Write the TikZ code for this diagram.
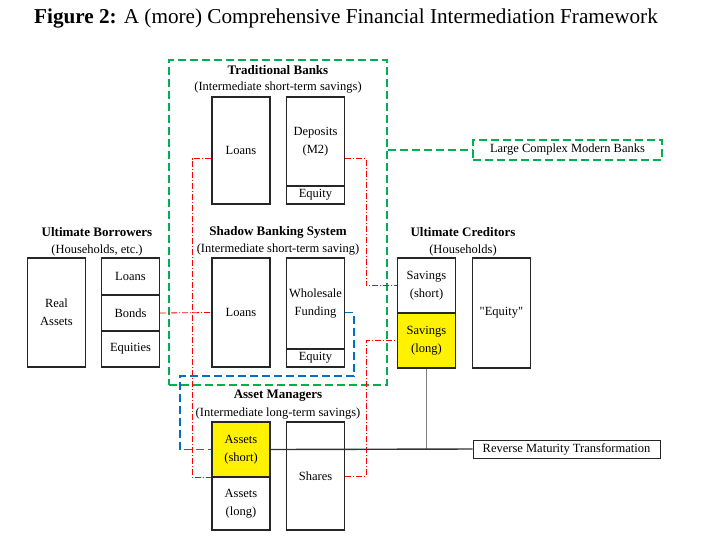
\documentclass[tikz,border=0pt]{standalone}
\usepackage{fontspec}
\setmainfont{Liberation Serif}
\usepackage{xcolor}
\usepackage{tikz}
\usetikzlibrary{positioning}
\definecolor{framegreen}{RGB}{0,176,80}
\definecolor{frameblue}{RGB}{0,112,192}
\newcommand{\diagfont}{\fontsize{12.5}{18}\selectfont}
\newcommand{\headfont}{\fontsize{13}{18}\selectfont\bfseries}

\begin{document}
\begin{tikzpicture}[x=1pt, y=-1pt]
				\tikzset{
					part/.style={rectangle, draw=black!85, line width=1.4pt, minimum width=58pt, inner sep=0pt, align=center, font=\diagfont},
					head/.style={font=\headfont, inner sep=0pt},
					sub/.style={font=\diagfont, inner sep=0pt},
					redline/.style={draw=red, line width=0.8pt, dash pattern=on 6pt off 2pt on 1pt off 2pt},
					greendash/.style={draw=framegreen, line width=1.8pt, dash pattern=on 8pt off 4pt},
					bluedash/.style={draw=frameblue, line width=1.8pt, dash pattern=on 8pt off 4pt},
					grayline/.style={draw=black!50, line width=1.4pt}
				}
				\useasboundingbox (0,0) rectangle (703,542);
				
				\node[font=\fontsize{21.2}{24}\selectfont] (title) at (346,18) {\textbf{Figure 2:} A (more) Comprehensive Financial Intermediation Framework};
				
				% Large complex modern banks
				\node[greendash, minimum width=218pt, minimum height=325pt] (lcmbframe) at (278,222.5) {};
				\node[greendash, line width=1.5pt, minimum width=189pt, minimum height=20pt, font=\diagfont] (lcmb) at (567.5,150) {Large Complex Modern Banks};
				
				% Traditional banks
				\node[head] (tbhead) at (278,70) {Traditional Banks};
				\node[sub] (tbsub) at (278,88) {(Intermediate short-term savings)};
				\node[part, minimum height=107pt] (tbl) at (241,150.5) {Loans};
				\node[part, minimum height=89pt] (tbd) at (315.5,141.5) {Deposits\\(M2)};
				\node[part, minimum height=18pt] (tbeq) at (315.5,195) {Equity};
				
				% Shadow banking system
				\node[head] (sbhead) at (278,232) {Shadow Banking System};
				\node[sub] (sbsub) at (278,250) {(Intermediate short-term saving)};
				\node[part, minimum height=109pt] (sbl) at (241,312.5) {Loans};
				\node[part, minimum height=91pt] (sbf) at (315.5,303.5) {Wholesale\\Funding};
				\node[part, minimum height=18pt] (sbeq) at (315.5,358) {Equity};
				
				% Ultimate borrowers
				\node[head] (ubhead) at (97,232) {Ultimate Borrowers};
				\node[sub] (ubsub) at (97,250) {(Households, etc.)};
				\node[part, minimum height=109pt] (ubreal) at (56.5,312.5) {Real\\Assets};
				\node[part, minimum height=37pt] (ubloans) at (130.5,276.5) {Loans};
				\node[part, minimum height=36pt] (ubbonds) at (130.5,313) {Bonds};
				\node[part, minimum height=36pt] (ubeq) at (130.5,349) {Equities};
				
				% Ultimate creditors
				\node[head] (uchead) at (463,232) {Ultimate Creditors};
				\node[sub] (ucsub) at (463,250) {(Households)};
				\node[part, minimum height=55pt] (ucshort) at (426.5,285.5) {Savings\\(short)};
				\node[part, minimum height=55pt, fill=yellow] (uclong) at (426.5,340.5) {Savings\\(long)};
				\node[part, minimum height=110pt] (uceq) at (501.5,313) {\textquotedbl Equity\textquotedbl};
				
				% Asset managers
				\node[head] (amhead) at (278,396) {Asset Managers};
				\node[sub] (amsub) at (278,413) {(Intermediate long-term savings)};
				\node[part, minimum height=55pt, fill=yellow] (amshort) at (241,449.5) {Assets\\(short)};
				\node[part, minimum height=53pt] (amlong) at (241,503.5) {Assets\\(long)};
				\node[part, minimum height=108pt] (amshares) at (315.5,476) {Shares};
				
				\node[draw=black!85, line width=0.8pt, minimum width=187pt, minimum height=18pt, font=\diagfont] (rmt) at (566.5,449) {Reverse Maturity Transformation};
				
				% Links
				\coordinate (redL) at (192,0);
				\coordinate (redR) at (366,0);
				\coordinate (blueA) at (354,376);
				\coordinate (blueB) at (180,376);
				
				\draw[greendash] (lcmbframe.east |- lcmb.west) -- (lcmb.west);
				\draw[redline] ([yshift=-8pt]tbl.west) -| (redL |- amshort.south west) -- (amshort.south west);
				\draw[redline] ([yshift=-17pt]tbd.east) -| (redR |- ucshort.west) -- (ucshort.west);
				\draw[redline] (amshares.east) -| (redR |- uclong.west) -- (uclong.west);
				\draw[redline] (ubbonds.east) -- (sbl.west);
				\draw[bluedash] (sbf.east |- sbl.center) -| (blueA) -- (blueB) |- (amshort.west);
				\draw[grayline] (uclong.south) -- (uclong.south |- rmt.west);
				\draw[grayline, draw=black!80] (amshort.east) -- (rmt.west);
			\end{tikzpicture}
\end{document}
